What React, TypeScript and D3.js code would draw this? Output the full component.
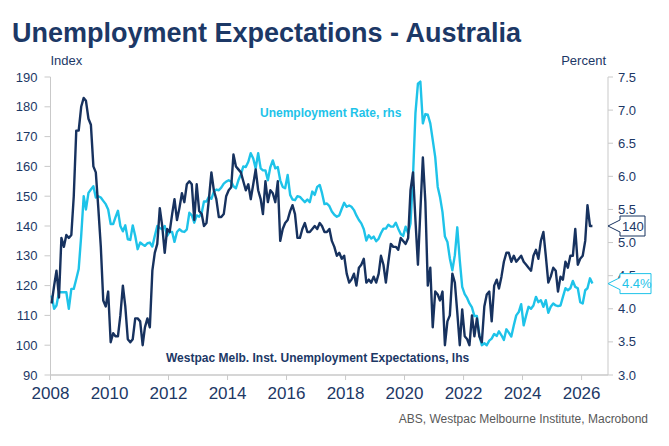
import * as d3 from "d3";

const W = 669;
const H = 446;

// monthly observations, first value = Jan 2008
const startYear = 2008;

// Westpac-MI Unemployment Expectations index (lhs)
const expectations = [
  114, 120, 125, 116, 136, 133, 137, 136, 137, 150,
  172, 172, 180, 183, 182, 176, 174, 160, 158, 146,
  133, 115, 113, 118, 101, 104, 103, 103, 110, 120,
  113, 102, 101, 102, 109, 109, 108, 100, 106, 109,
  106, 125, 131, 134, 146, 140, 131, 139, 138, 144,
  149, 142, 146, 151, 148, 154, 155, 154, 142, 154,
  145, 144, 140, 141, 149, 158, 152, 149, 143, 143,
  144, 150, 152, 153, 164, 160, 159, 158, 155, 152,
  154, 149, 154, 159, 152, 149, 144, 155, 148, 152,
  151, 148, 155, 135, 139, 141, 142, 145, 147, 144,
  136, 136, 139, 141, 138, 138, 139, 140, 139, 141,
  140, 138, 138, 139, 135, 133, 130, 131, 129, 130,
  124, 121, 122, 124, 120, 126, 127, 129, 121, 122,
  121, 123, 121, 124, 130, 127, 121, 128, 134, 133,
  133, 132, 136, 135, 134, 136, 152, 158, 142, 127,
  145, 163, 148, 120, 126, 106, 118, 117, 115, 118,
  100, 108, 110, 124, 121, 111, 100, 112, 103, 102,
  100, 110, 103, 109, 103, 101, 113, 117, 118, 108,
  120, 122, 119, 123, 128, 131, 131, 128, 130, 128,
  129, 130, 128, 127, 126, 125, 130, 132, 129, 135,
  138, 130, 121, 123, 126, 125, 118, 123, 122, 128,
  126, 130, 130, 139, 127, 129, 130, 135, 147, 140, 140,
];

// ABS unemployment rate, % (rhs)
const unemploymentRate = [
  4.2, 4.0, 4.05, 4.25, 4.25, 4.25, 4.25, 4.0, 4.3, 4.3,
  4.45, 4.6, 5.1, 5.7, 5.5, 5.75, 5.8, 5.85, 5.68, 5.7,
  5.68, 5.63, 5.58, 5.5, 5.28, 5.28, 5.38, 5.48, 5.25, 5.17,
  5.26, 5.05, 5.04, 5.26, 5.1, 4.9, 5.0, 4.97, 4.95, 4.99,
  5.0, 4.94, 5.1, 5.25, 5.22, 5.2, 5.25, 5.1, 5.16, 5.16,
  5.01, 5.16, 5.2, 5.17, 5.16, 5.2, 5.45, 5.41, 5.3, 5.41,
  5.39, 5.45, 5.62, 5.62, 5.69, 5.66, 5.77, 5.8, 5.79, 5.83,
  5.89, 5.92, 5.94, 5.92, 5.85, 5.82, 5.94, 6.03, 6.15, 6.14,
  6.22, 6.35, 6.27, 6.12, 6.35, 6.12, 6.09, 6.09, 5.94, 6.14,
  6.24, 6.12, 6.14, 5.94, 5.84, 5.82, 6.02, 5.72, 5.65, 5.64,
  5.7, 5.69, 5.65, 5.61, 5.65, 5.61, 5.77, 5.72, 5.84, 5.87,
  5.75, 5.58, 5.59, 5.55, 5.47, 5.42, 5.39, 5.41, 5.51, 5.6,
  5.54, 5.56, 5.54, 5.49, 5.41, 5.34, 5.29, 5.2, 5.03, 5.11,
  5.06, 5.09, 5.02, 5.06, 5.14, 5.21, 5.21, 5.27, 5.24, 5.24,
  5.3, 5.21, 5.13, 5.1, 5.24, 5.14, 5.29, 6.0, 6.95, 7.4,
  7.43, 6.8, 6.94, 6.93, 6.8, 6.55, 6.29, 5.84, 5.69, 5.46,
  5.09, 5.01, 4.76, 4.58, 4.81, 5.23, 4.73, 4.33, 4.22, 4.16,
  4.08, 4.02, 3.89, 3.89, 3.6, 3.45, 3.48, 3.45, 3.52, 3.55,
  3.62, 3.59, 3.66, 3.6, 3.53, 3.69, 3.64, 3.58, 3.75, 3.9,
  3.95, 4.07, 3.75, 3.9, 4.03, 4.0, 4.05, 4.18, 4.1, 4.13,
  4.03, 4.13, 3.94, 4.03, 4.08, 4.05, 4.04, 4.05, 4.18, 4.31,
  4.28, 4.31, 4.42, 4.33, 4.31, 4.1, 4.08, 4.28, 4.31, 4.46, 4.38,
];

const leftTicks = [90, 100, 110, 120, 130, 140, 150, 160, 170, 180, 190];
const rightTicks = [3.0, 3.5, 4.0, 4.5, 5.0, 5.5, 6.0, 6.5, 7.0, 7.5];
const yearTicks = [2008, 2010, 2012, 2014, 2016, 2018, 2020, 2022, 2024, 2026];

const NAVY = "#17325f";
const NAVY_TEXT = "#1c3866";
const CYAN = "#1ec3e9";
const AXIS = "#c9c9c9";
const FONT = "'Liberation Sans', Arial, sans-serif";

const monthDate = (i: number) => new Date(startYear, i, 15);

export default function App() {
  const x = d3
    .scaleTime()
    .domain([new Date(2008, 0, 1), new Date(2026, 10, 24)])
    .range([50.5, 608]);
  const yL = d3.scaleLinear().domain([90, 190]).range([375, 77]);
  const yR = d3.scaleLinear().domain([3, 7.5]).range([375, 77]);

  const lineL = d3
    .line<number>()
    .x((_, i) => x(monthDate(i)))
    .y((d) => yL(d));
  const lineR = d3
    .line<number>()
    .x((_, i) => x(monthDate(i)))
    .y((d) => yR(d));

  const [x0, x1] = x.range();
  const [yBot, yTop] = yL.range();

  const lastL = expectations[expectations.length - 1];
  const lastR = unemploymentRate[unemploymentRate.length - 1];
  const tipL = yL(lastL);
  const tipR = yR(lastR);

  // value tag with an arrow pointing at the right axis
  const tag = (tipY: number, w: number) =>
    `M${x1},${tipY} L${x1 + 12},${tipY - 6} L${x1 + 12},${tipY - 10} L${x1 + 12 + w},${tipY - 10} L${x1 + 12 + w},${tipY + 10} L${x1 + 12},${tipY + 10} L${x1 + 12},${tipY + 6} Z`;

  return (
    <svg
      width={W}
      height={H}
      viewBox={`0 0 ${W} ${H}`}
      style={{ position: "absolute", left: 0, top: 0, background: "#fff" }}
      fontFamily={FONT}
    >
      <rect width={W} height={H} fill="#fff" />
      <text x={12} y={42} fontSize={27} fontWeight="bold" fill={NAVY_TEXT}>
        Unemployment Expectations - Australia
      </text>

      <text x={x0} y={64.5} fontSize={13} fill={NAVY_TEXT}>
        Index
      </text>
      <text x={x1 - 2} y={64.5} fontSize={13} fill={NAVY_TEXT} textAnchor="end">
        Percent
      </text>

      {/* axes */}
      <line x1={x0} x2={x0} y1={yTop} y2={yBot} stroke={AXIS} />
      <line x1={x1} x2={x1} y1={yTop} y2={yBot} stroke={AXIS} />
      <line x1={x0} x2={x1} y1={yBot} y2={yBot} stroke={AXIS} strokeWidth={1.5} />

      {leftTicks.map((t) => (
        <g key={`l${t}`}>
          <line x1={x0 - 6} x2={x0} y1={yL(t)} y2={yL(t)} stroke={AXIS} />
          <text x={x0 - 13} y={yL(t) + 4.5} fontSize={13} fill={NAVY_TEXT} textAnchor="end">
            {t}
          </text>
        </g>
      ))}
      {rightTicks.map((t) => (
        <g key={`r${t}`}>
          <line x1={x1} x2={x1 + 5} y1={yR(t)} y2={yR(t)} stroke={AXIS} />
          <text x={x1 + 10} y={yR(t) + 4.5} fontSize={13} fill={NAVY_TEXT}>
            {t.toFixed(1)}
          </text>
        </g>
      ))}
      {yearTicks.map((yr) => {
        const px = x(new Date(yr, 0, 1));
        return (
          <g key={`x${yr}`}>
            <line x1={px} x2={px} y1={yBot} y2={yBot + 5} stroke={AXIS} />
            <text x={px} y={399} fontSize={17} fill={NAVY_TEXT} textAnchor="middle">
              {yr}
            </text>
          </g>
        );
      })}

      {/* series: navy drawn over cyan */}
      <path
        d={lineR(unemploymentRate) ?? ""}
        fill="none"
        stroke={CYAN}
        strokeWidth={2.4}
        strokeLinejoin="round"
      />
      <path
        d={lineL(expectations) ?? ""}
        fill="none"
        stroke={NAVY}
        strokeWidth={2.4}
        strokeLinejoin="round"
      />

      <text x={260} y={117} fontSize={12} fontWeight="bold" fill={CYAN}>
        Unemployment Rate, rhs
      </text>
      <text x={166} y={362} fontSize={12} fontWeight="bold" fill={NAVY_TEXT}>
        Westpac Melb. Inst. Unemployment Expectations, lhs
      </text>

      {/* last value tags */}
      <path d={tag(tipL, 25)} fill="#fff" stroke={NAVY} strokeWidth={1} />
      <text x={x1 + 14} y={tipL + 4.5} fontSize={13} fill={NAVY_TEXT}>
        {lastL.toFixed(0)}
      </text>
      <path d={tag(tipR, 31)} fill="#fff" stroke={CYAN} strokeWidth={1} />
      <text x={x1 + 14} y={tipR + 4.5} fontSize={13} fill={CYAN}>
        {`${lastR.toFixed(1)}%`}
      </text>

      <text x={648} y={423} fontSize={12} fill="#595959" textAnchor="end">
        ABS, Westpac Melbourne Institute, Macrobond
      </text>
    </svg>
  );
}
